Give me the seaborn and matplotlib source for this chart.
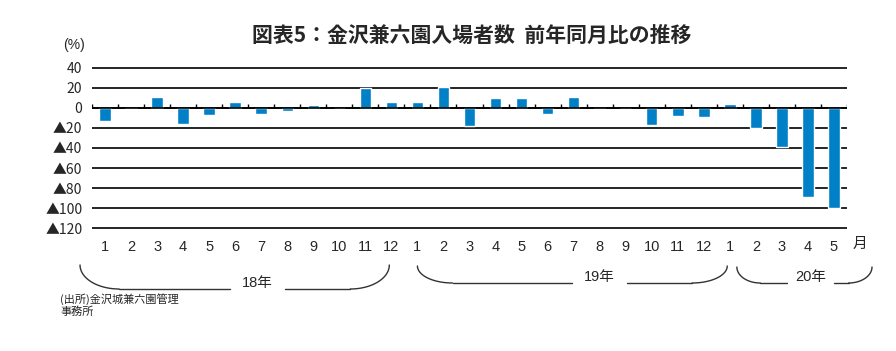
import matplotlib
matplotlib.use('Agg')
import matplotlib.pyplot as plt
import matplotlib.transforms as mtransforms
import numpy as np
import pandas as pd
import seaborn as sns

# 金沢兼六園入場者数 前年同月比 (%)
months = [1, 2, 3, 4, 5, 6, 7, 8, 9, 10, 11, 12,
          1, 2, 3, 4, 5, 6, 7, 8, 9, 10, 11, 12,
          1, 2, 3, 4, 5]
years = [18] * 12 + [19] * 12 + [20] * 5
yoy = [-13.2, -1.3, 11.2, -16.1, -7.2, 5.3, -6.3, -3.3, 2.3, 0.0, 19.8, 5.3,
       5.3, 21.1, -18.1, 10.2, 10.2, -6.3, 11.2, -1.3, 0.0, -17.1, -8.2, -9.2,
       3.3, -20.4, -38.8, -89.2, -100.1]
yticks = [40, 20, 0, -20, -40, -60, -80, -100, -120]
ytick_labels = ['40', '20', '0', '▲20', '▲40', '▲60', '▲80', '▲100', '▲120']

# year brackets: (label, left x, right x, label x, arc width, gap, top px, bottom px)
brackets = [
    ('18年', -0.96, 10.92, 5.85, 1.5, 2.1, 265, 289),
    ('19年', 12.0, 23.9, 19.0, 1.35, 2.1, 266, 283),
    ('20年', 24.27, 29.46, 27.1, 0.9, 1.8, 267, 283),
]

df = pd.DataFrame({'key': [f'{y}-{m:02d}' for y, m in zip(years, months)],
                   'month': months, 'yoy': yoy})

sns.set_style('white')
plt.rcParams['font.family'] = ['Liberation Sans', 'Noto Sans CJK JP', 'DejaVu Sans']
cjk = ['Noto Sans CJK JP', 'DejaVu Sans']

W, H = 896, 351
fig = plt.figure(figsize=(W / 100, H / 100), dpi=100)
ax = fig.add_axes([92 / W, 1 - 229 / H, (847 - 92) / W, (229 - 67) / H])

sns.barplot(data=df, x='key', y='yoy', color='#0080c6', saturation=1,
            width=0.44, ax=ax, zorder=3)

ax.set_xlim(-0.5, len(df) - 0.5)
ax.set_ylim(-120.6, 40.6)
ax.set_yticks(yticks)
ax.set_yticklabels(ytick_labels, fontsize=10, family=cjk)
ax.yaxis.grid(True, color='black', lw=1.2, zorder=1)
ax.set_xticks(range(len(df)))
ax.set_xticklabels([str(m) for m in months], fontsize=10.5)
ax.tick_params(axis='x', length=0, pad=8)
ax.tick_params(axis='y', length=0, pad=7)
ax.set_xlabel('')
ax.set_ylabel('')
for s in ax.spines.values():
    s.set_visible(False)

# zero line with category separators
ax.axhline(0, color='black', lw=1.2, zorder=4)
ax.vlines(np.arange(-0.5, len(df), 1), 0, 4, color='black', lw=1, zorder=4)

# 月 label after last month
bt = mtransforms.blended_transform_factory(ax.transData, fig.transFigure)
ax.text(len(df), 1 - 244 / H, '月', transform=bt, ha='center', va='center',
        fontsize=10.5, family=cjk)

for label, x0, x1, xl, aw, gap, ptop, pbot in brackets:
    yt = 1 - ptop / H
    yb = 1 - pbot / H
    h = yt - yb
    t = np.linspace(np.pi, 1.5 * np.pi, 30)
    ax.plot(x0 + aw + aw * np.cos(t), yt + h * np.sin(t), color='#333333', lw=1,
            transform=bt, clip_on=False)
    t = np.linspace(1.5 * np.pi, 2 * np.pi, 30)
    ax.plot(x1 - aw + aw * np.cos(t), yt + h * np.sin(t), color='#333333', lw=1,
            transform=bt, clip_on=False)
    ax.plot([x0 + aw, xl - gap / 2], [yb, yb], color='#333333', lw=1,
            transform=bt, clip_on=False)
    ax.plot([xl + gap / 2, x1 - aw], [yb, yb], color='#333333', lw=1,
            transform=bt, clip_on=False)
    ax.text(xl, yb + 6 / H, label, transform=bt, ha='center', va='center', fontsize=10.5)

fig.text(472 / W, 1 - 35 / H, '図表5：金沢兼六園入場者数  前年同月比の推移',
         ha='center', va='center', fontsize=15, fontweight='bold', family=cjk)
fig.text(74 / W, 1 - 45 / H, '(%)', ha='center', va='center', fontsize=10)
fig.text(60 / W, 1 - 305 / H, '(出所)金沢城兼六園管理\n事務所', ha='left', va='center',
         fontsize=8, linespacing=1.2, family=cjk)

fig.savefig('out.png', dpi=100)
